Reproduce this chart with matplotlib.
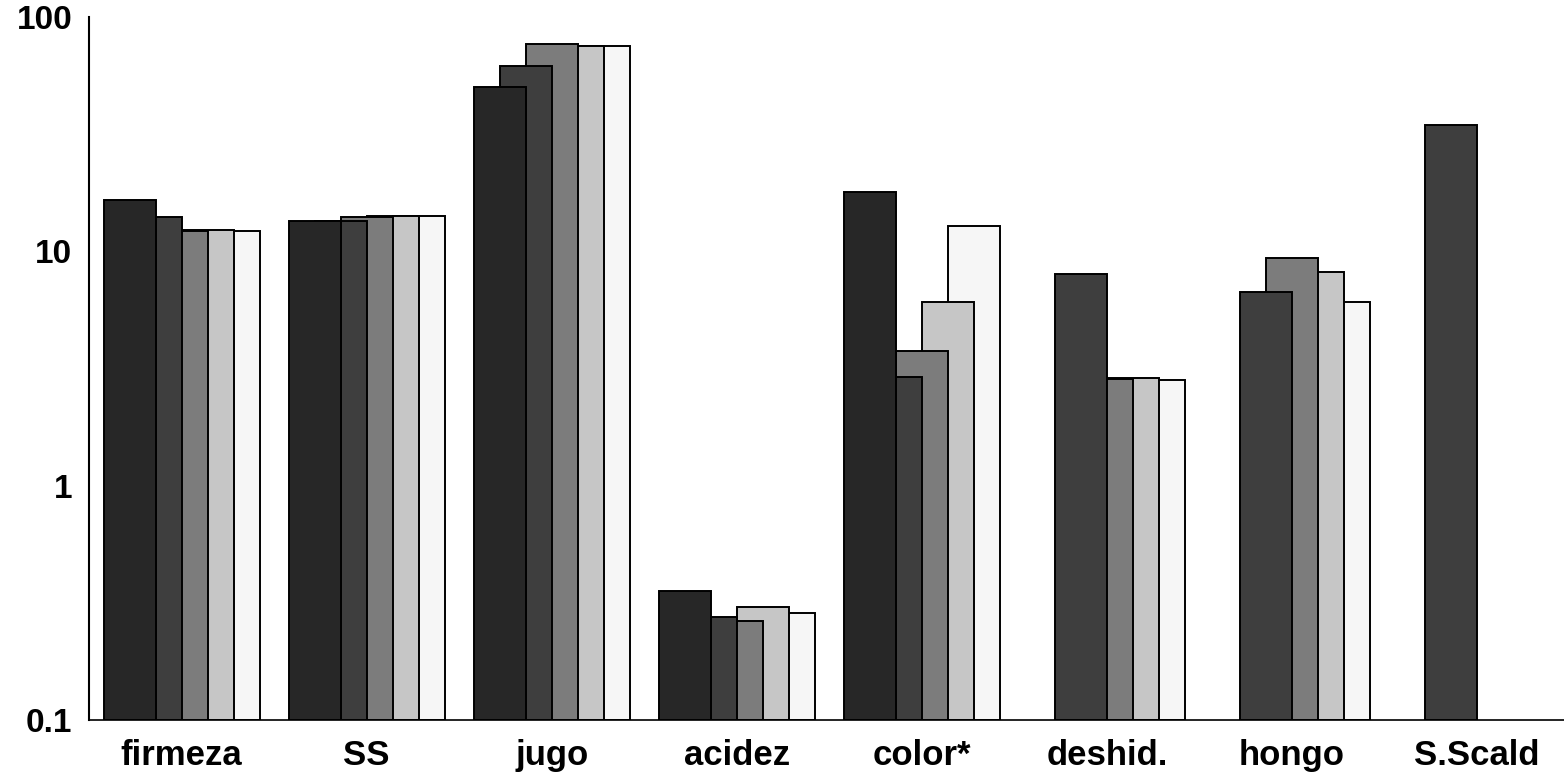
import numpy as np
import matplotlib
matplotlib.use("Agg")
import matplotlib.pyplot as plt

categories = ['firmeza', 'SS', 'jugo', 'acidez', 'color*', 'deshid.', 'hongo', 'S.Scald']
s1 = [16.5, 13.5, 50.2, 0.356, 18.0, np.nan, np.nan, np.nan]
s2 = [14.0, 13.5, 61.8, 0.275, 2.92, 7.97, 6.68, 34.5]
s3 = [12.2, 14.0, 76.7, 0.265, 3.74, 2.84, 9.33, np.nan]
s4 = [12.3, 14.1, 75.2, 0.304, 6.05, 2.87, 8.2, np.nan]
s5 = [12.2, 14.1, 75.2, 0.286, 12.8, 2.82, 6.05, np.nan]
yticks = [0.1, 1, 10, 100]
yticklabels = ['0.1', '1', '10', '100']

series = [s1, s2, s3, s4, s5]
colors = ['#272727', '#3e3e3e', '#7c7c7c', '#c6c6c6', '#f6f6f6']

plt.rcParams['font.family'] = ['Liberation Sans', 'DejaVu Sans']
fig = plt.figure(figsize=(15.64, 7.78), dpi=100)
ax = fig.add_axes([89/1564, 58/778, (1564-89)/1564, (720-17)/778])

x = np.arange(len(categories))
width = 0.281
step = 0.1405
base = 0.1
for i, (vals, c) in enumerate(zip(series, colors)):
    v = np.array(vals, dtype=float)
    ax.bar(x + (i - 2) * step, v - base, width=width, bottom=base, color=c,
           edgecolor='black', linewidth=1.4, zorder=10 - i, align='center')

ax.set_yscale('log')
ax.set_ylim(0.1, 100)
ax.set_xlim(-0.5, 7.47)
ax.set_yticks(yticks)
ax.set_yticklabels(yticklabels)
ax.yaxis.set_minor_locator(matplotlib.ticker.NullLocator())
ax.set_xticks(x)
ax.set_xticklabels(categories)
ax.tick_params(axis='both', length=0)
ax.tick_params(axis='y', pad=12, labelsize=24)
ax.tick_params(axis='x', pad=14, labelsize=25)
for lab in ax.get_xticklabels() + ax.get_yticklabels():
    lab.set_fontweight('bold')
for sp in ['top', 'right']:
    ax.spines[sp].set_visible(False)
ax.spines['left'].set_linewidth(1.5)
ax.spines['bottom'].set_linewidth(1.2)
ax.spines['left'].set_zorder(20)
ax.spines['bottom'].set_zorder(20)

fig.savefig('out.png', dpi=100)
